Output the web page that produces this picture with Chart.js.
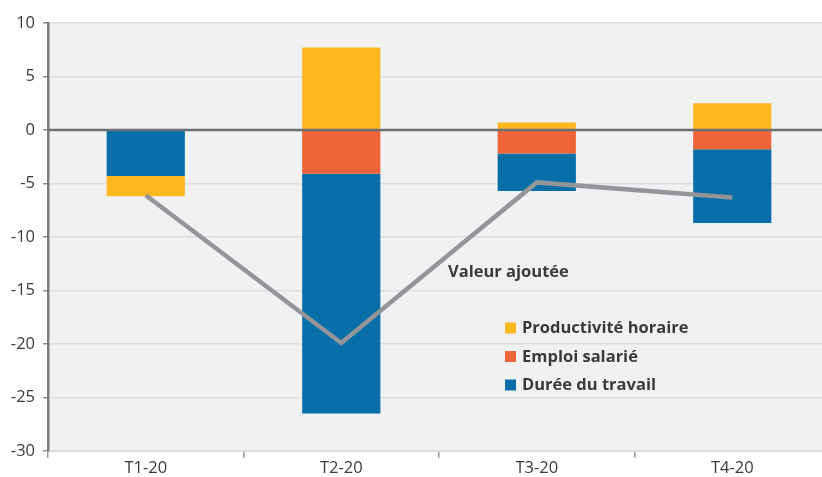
<!DOCTYPE html>
<html>
<head>
<meta charset="utf-8">
<script src="https://cdn.jsdelivr.net/npm/chart.js@4/dist/chart.umd.min.js"></script>
<style>
  html, body { margin: 0; padding: 0; background: #fff; overflow: hidden; }
  #wrap { width: 830px; height: 477px; }
</style>
</head>
<body>
<div id="wrap"><canvas id="chart" width="830" height="477"></canvas></div>
<script>
// Données (contributions, en points)
var trimestres = ['T1-20', 'T2-20', 'T3-20', 'T4-20'];
var emploiSalarie = [0, -4.1, -2.2, -1.8];
var dureeTravail = [-4.3, -22.4, -3.5, -6.9];
var productiviteHoraire = [-1.9, 7.7, 0.7, 2.5];
var valeurAjoutee = [-6.1, -19.9, -4.9, -6.3];
var yTicks = [10, 5, 0, -5, -10, -15, -20, -25, -30];

var couleurs = {
    productivite: '#fbb821',
    emploi: '#ee6539',
    duree: '#076ea8',
    ligne: '#939598'
};

var police = '"Open Sans", "DejaVu Sans", sans-serif';

// Fond gris de la zone de tracé
var fondPlugin = {
    id: 'fond',
    beforeDraw: function(chart) {
        var a = chart.chartArea;
        var ctx = chart.ctx;
        ctx.save();
        ctx.fillStyle = '#f0f1f3';
        ctx.fillRect(a.left, a.top, a.right - a.left, a.bottom - a.top);
        ctx.restore();
    }
};

// Ligne du zéro par-dessus les barres
var zeroPlugin = {
    id: 'zero',
    afterDatasetsDraw: function(chart) {
        var a = chart.chartArea;
        var y = Math.round(chart.scales.y.getPixelForValue(0));
        var ctx = chart.ctx;
        ctx.save();
        ctx.strokeStyle = '#6d6e71';
        ctx.lineWidth = 2.5;
        ctx.beginPath();
        ctx.moveTo(a.left, y);
        ctx.lineTo(a.right, y);
        ctx.stroke();
        ctx.restore();
    }
};

// Légende et étiquette placées dans le graphique
var legendePlugin = {
    id: 'legende',
    afterDraw: function(chart) {
        var ctx = chart.ctx;
        ctx.save();
        ctx.font = 'bold 16.5px ' + police;
        ctx.fillStyle = '#3a3a3c';
        ctx.textBaseline = 'middle';
        ctx.fillText('Valeur ajoutée', 448, 272);

        var items = [
            { label: 'Productivité horaire', color: couleurs.productivite },
            { label: 'Emploi salarié', color: couleurs.emploi },
            { label: 'Durée du travail', color: couleurs.duree }
        ];
        items.forEach(function(it, i) {
            var y = 328 + i * 28.5;
            ctx.fillStyle = it.color;
            ctx.fillRect(505, y - 5.5, 11, 11);
            ctx.fillStyle = '#3a3a3c';
            ctx.fillText(it.label, 522, y + 0.5);
        });
        ctx.restore();
    }
};

var ctx = document.getElementById('chart');
var myChart = new Chart(ctx, {
    type: 'bar',
    data: {
        labels: trimestres,
        datasets: [
            {
                type: 'line',
                label: 'Valeur ajoutée',
                data: valeurAjoutee,
                borderColor: couleurs.ligne,
                borderWidth: 4.5,
                pointRadius: 0,
                tension: 0,
                stack: 'va',
                order: 0
            },
            {
                label: 'Emploi salarié',
                data: emploiSalarie,
                backgroundColor: couleurs.emploi,
                stack: 'contrib',
                order: 1
            },
            {
                label: 'Durée du travail',
                data: dureeTravail,
                backgroundColor: couleurs.duree,
                stack: 'contrib',
                order: 1
            },
            {
                label: 'Productivité horaire',
                data: productiviteHoraire,
                backgroundColor: couleurs.productivite,
                stack: 'contrib',
                order: 1
            }
        ]
    },
    options: {
        responsive: false,
        animation: false,
        devicePixelRatio: 1,
        layout: { padding: { top: 23, right: 0, bottom: 0, left: 0 } },
        datasets: {
            bar: { barPercentage: 0.8, categoryPercentage: 0.5 }
        },
        plugins: {
            legend: { display: false },
            tooltip: { enabled: false }
        },
        scales: {
            x: {
                stacked: true,
                grid: {
                    drawOnChartArea: false,
                    color: '#9a9a9c',
                    tickLength: 7,
                    lineWidth: 1.5
                },
                border: { color: '#dcdde0', width: 2 },
                ticks: {
                    color: '#3a3a3c',
                    font: { family: police, size: 16.5 },
                    padding: 0
                },
                afterFit: function(scale) { scale.height = 26; }
            },
            y: {
                stacked: true,
                min: -30,
                max: 10,
                afterBuildTicks: function(scale) {
                    scale.ticks = yTicks.map(function(v) { return { value: v }; });
                },
                grid: {
                    color: '#dcdde0',
                    lineWidth: 1.5,
                    tickLength: 5,
                    tickColor: '#8a8a8c'
                },
                border: { color: '#7a7a7c', width: 2.5 },
                ticks: {
                    color: '#3a3a3c',
                    font: { family: police, size: 16.5 },
                    padding: 8
                },
                afterFit: function(scale) { scale.width = 48; }
            }
        }
    },
    plugins: [fondPlugin, zeroPlugin, legendePlugin]
});
</script>
</body>
</html>
